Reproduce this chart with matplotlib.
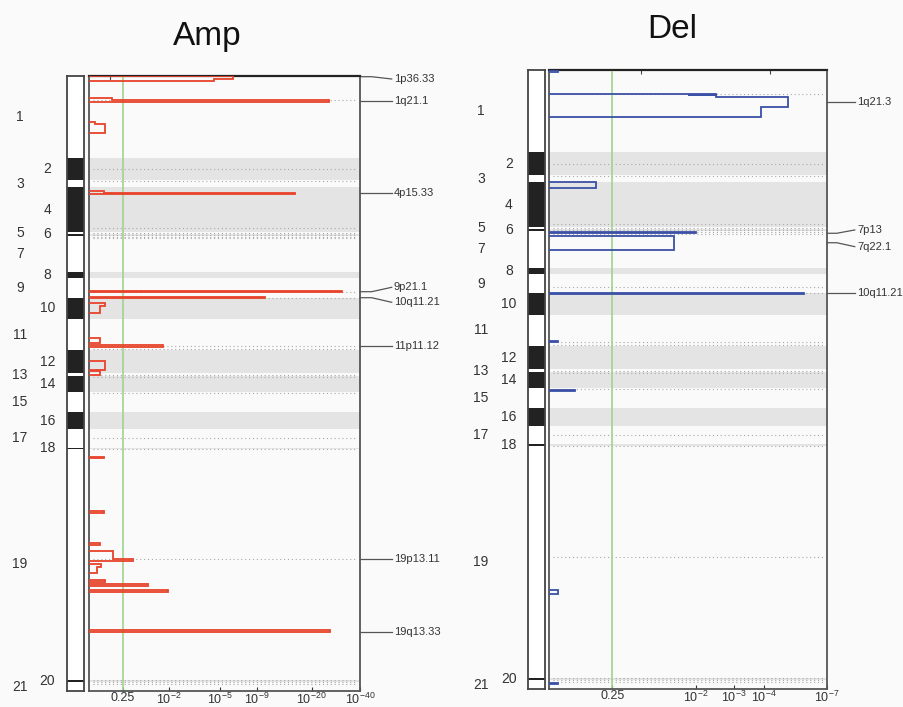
import numpy as np
import matplotlib.pyplot as plt
from matplotlib import font_manager
from matplotlib.transforms import blended_transform_factory

names = {f.name for f in font_manager.fontManager.ttflist}
narrow = 'Liberation Sans Narrow' if 'Liberation Sans Narrow' in names else 'Liberation Sans'
plt.rcParams['font.family'] = [narrow, 'DejaVu Sans']
plt.rcParams['mathtext.fontset'] = 'custom'
plt.rcParams['mathtext.rm'] = narrow
plt.rcParams['mathtext.it'] = narrow
plt.rcParams['mathtext.bf'] = narrow

# chromosome lengths (relative genome units)
chrom_len = [82, 22.3, 7.3, 44.4, 1.8, 2.0, 36.8, 6, 19.4, 21.3, 31, 23.3, 2.7,
             15.7, 20, 17.6, 18.2, 1.5, 231, 2.3, 8.7]

# amplification profile: segment start / end (genome units) and score (axis fraction)
amp_start = [0.3, 3.3, 21.8, 24.3, 46.0, 48.3, 114.8, 116.8, 215.1, 221.1, 227.6, 230.0,
             262.6, 269.6, 285.3, 294.8, 380.8, 435.8, 467.6, 475.0, 483.3, 488.3, 491.6,
             504.3, 508.6, 514.6, 554.8]
amp_end = [3.3, 5.3, 24.3, 25.8, 48.3, 57.6, 116.8, 118.3, 216.6, 222.6, 230.0, 237.6,
           267.6, 271.0, 294.3, 299.3, 382.3, 437.3, 469.0, 483.3, 484.8, 491.6, 497.6,
           505.8, 510.1, 516.0, 556.8]
amp_score = [0.531, 0.461, 0.084, 0.886, 0.022, 0.059, 0.055, 0.76, 0.935, 0.649, 0.059, 0.041,
             0.041, 0.274, 0.059, 0.041, 0.056, 0.056, 0.041, 0.09, 0.163, 0.043, 0.028,
             0.059, 0.216, 0.293, 0.889]

# deletion profile
del_start = [0.2, 23.7, 24.6, 25.1, 26.5, 37.1, 111.0, 161.0, 165.0, 221.4, 269.4, 317.6,
             516.9, 609.0]
del_end = [1.5, 24.6, 25.1, 26.5, 37.1, 46.4, 117.0, 162.3, 178.9, 222.7, 270.7, 318.8,
           520.9, 610.3]
del_score = [0.032, 0.600, 0.498, 0.600, 0.861, 0.762, 0.168, 0.528, 0.45, 0.917, 0.032,
             0.093, 0.032, 0.032]

# dotted guide lines (genome units)
dotted_pos = [24.3, 93.6, 105.0, 152.6, 157.0, 158.8, 160.8, 162.6, 216.0, 222.0, 270.3,
              273.6, 299.3, 301.6, 317.0, 362.6, 373.3, 483.6, 604.6, 606.6, 608.6]

# q-value ticks
amp_tick_pos = [0.125, 0.295, 0.482, 0.62, 0.822, 1.0]
amp_tick_lab = ['0.25', r'$10^{-2}$', r'$10^{-5}$', r'$10^{-9}$', r'$10^{-20}$', r'$10^{-40}$']
del_tick_pos = [0.227, 0.529, 0.666, 0.772, 1.0]
del_tick_lab = ['0.25', r'$10^{-2}$', r'$10^{-3}$', r'$10^{-4}$', r'$10^{-7}$']
amp_top_ticks = [0.077]
del_top_ticks = [0.33, 0.794]

# peak labels
amp_peak_names = ['1p36.33', '1q21.1', '4p15.33', '9p21.1', '10q11.21', '11p11.12',
                  '19p13.11', '19q13.33']
amp_peak_pos = [1.0, 25.0, 117.6, 216.0, 222.0, 270.3, 483.6, 556.0]
amp_label_pos = [3.3, 25.0, 117.6, 211.6, 226.6, 270.3, 483.6, 556.0]
del_peak_names = ['1q21.3', '7p13', '7q22.1', '10q11.21']
del_peak_pos = [31.5, 162.3, 171.7, 222.0]
del_label_pos = [31.5, 159.0, 175.6, 222.0]

bounds = np.concatenate([[0], np.cumsum(chrom_len)])
total = bounds[-1]
bg = '#fafafa'


def step_path(starts, ends, scores):
    xs, ys = [], []
    prev_end = None
    for s, e, v in zip(starts, ends, scores):
        if prev_end is None or abs(s - prev_end) > 0.05:
            if prev_end is not None:
                xs += [0, np.nan]
                ys += [prev_end, np.nan]
            xs.append(0)
            ys.append(s)
        xs += [v, v]
        ys += [s, e]
        prev_end = e
    xs.append(0)
    ys.append(prev_end)
    return xs, ys


def draw_panel(ax_id, ax, starts, ends, scores, color, tpos, tlab, top_ticks,
               pnames, ppos, lpos, xodd, xeven, leader):
    # ideogram
    for i in range(len(chrom_len)):
        if (i + 1) % 2 == 0:
            ax_id.axhspan(bounds[i], bounds[i + 1], color='#222222', lw=0)
    ax_id.set_xlim(0, 1)
    ax_id.set_ylim(total, 0)
    ax_id.set_xticks([])
    ax_id.set_yticks([])
    ax_id.set_facecolor('white')
    for sp in ax_id.spines.values():
        sp.set_color('#444444')
        sp.set_linewidth(1.3)
    tr = blended_transform_factory(ax_id.figure.transFigure, ax_id.transData)
    for i in range(len(chrom_len)):
        mid = (bounds[i] + bounds[i + 1]) / 2
        x = xodd if i % 2 == 0 else xeven
        ax_id.text(x, mid, str(i + 1), transform=tr, ha='center', va='center',
                   fontsize=10, color='#333333')

    # main panel
    ax.set_facecolor(bg)
    for i in range(len(chrom_len)):
        if (i + 1) % 2 == 0:
            ax.axhspan(bounds[i], bounds[i + 1], color='#e4e4e4', lw=0, zorder=0)
    for y in dotted_pos:
        ax.plot([0.015, 0.99], [y, y], ls=(0, (1, 2.5)), color='#a8a8a8', lw=0.8, zorder=1)
    ax.axvline(tpos[0], color='#9fd48f', lw=1.2, zorder=2)
    xs, ys = step_path(starts, ends, scores)
    ax.plot(xs, ys, color=color, lw=1.3, zorder=3, solid_joinstyle='miter')
    ax.set_xlim(0, 1)
    ax.set_ylim(total, 0)
    ax.set_yticks([])
    ax.set_xticks(tpos)
    ax.set_xticklabels(tlab)
    ax.tick_params(axis='x', direction='in', length=3, labelsize=9, pad=0.5,
                   colors='#333333')
    top = ax.secondary_xaxis('top')
    top.set_xticks(top_ticks)
    top.tick_params(direction='in', length=3, labeltop=False, colors='#444444')
    for sp in ax.spines.values():
        sp.set_color('#555555')
        sp.set_linewidth(1.3)
    ax.spines['top'].set_color('#222222')
    top.spines['top'].set_color('#222222')
    top.spines['top'].set_linewidth(1.6)

    trp = blended_transform_factory(ax.transAxes, ax.transData)
    for name, p, lp in zip(pnames, ppos, lpos):
        ax.plot([1.0, leader[0], leader[1]], [p, p, lp], transform=trp, clip_on=False,
                color='#555555', lw=0.9)
        ax.text(leader[1] + 0.008, lp, name, transform=trp, ha='left', va='center',
                fontsize=8, color='#333333')


fig = plt.figure(figsize=(9.04, 7.07), dpi=100, facecolor=bg)
amp_ideo = fig.add_axes([67 / 904, 1 - 691 / 707, 16.7 / 904, 615.3 / 707])
amp_ax = fig.add_axes([89 / 904, 1 - 691 / 707, 271 / 904, 615.3 / 707])
del_ideo = fig.add_axes([528 / 904, 1 - 689 / 707, 17 / 904, 619 / 707])
del_ax = fig.add_axes([549.3 / 904, 1 - 689 / 707, 277.7 / 904, 619 / 707])

draw_panel(amp_ideo, amp_ax, amp_start, amp_end, amp_score, '#e8432a',
           amp_tick_pos, amp_tick_lab, amp_top_ticks,
           amp_peak_names, amp_peak_pos, amp_label_pos, 20 / 904, 47.5 / 904,
           (1.043, 1.117))
draw_panel(del_ideo, del_ax, del_start, del_end, del_score, '#3b50a6',
           del_tick_pos, del_tick_lab, del_top_ticks,
           del_peak_names, del_peak_pos, del_label_pos, 481 / 904, 509 / 904,
           (1.035, 1.1))

fig.text(207 / 904, 1 - 36 / 707, 'Amp', ha='center', va='center', fontsize=24,
         family=['Liberation Sans', 'DejaVu Sans'], color='#111111')
fig.text(672 / 904, 1 - 29 / 707, 'Del', ha='center', va='center', fontsize=24,
         family=['Liberation Sans', 'DejaVu Sans'], color='#111111')

fig.savefig('out.png', dpi=100, facecolor=fig.get_facecolor())
